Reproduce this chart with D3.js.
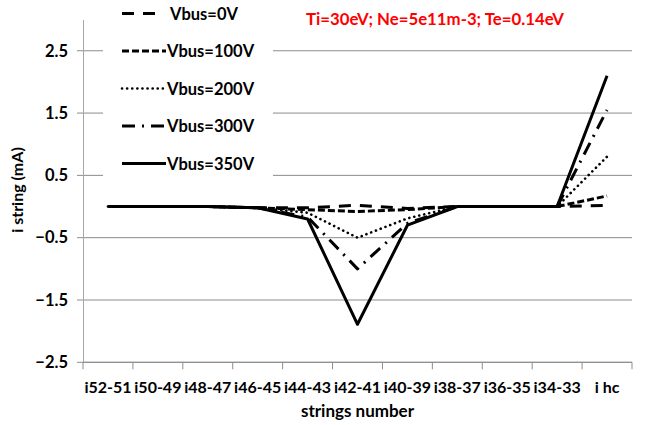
<!DOCTYPE html>
<html>
<head>
<meta charset="utf-8">
<script src="https://cdn.jsdelivr.net/npm/d3@7"></script>
<style>
  body { margin: 0; background: #fff; }
  text { font-family: Lato, "Liberation Sans", sans-serif; font-weight: bold; }
</style>
</head>
<body>
<div id="chart-area"></div>
<script>
// data
let categories = ["i52-51", "i50-49", "i48-47", "i46-45", "i44-43", "i42-41",
                  "i40-39", "i38-37", "i36-35", "i34-33", "i hc"];
let v0   = [0, 0, 0, -0.02, -0.02, 0.02, -0.03, 0, 0, 0, 0.02];
let v100 = [0, 0, 0, -0.02, -0.05, -0.08, -0.05, 0, 0, 0, 0.17];
let v200 = [0, 0, 0, -0.02, -0.1, -0.5, -0.19, 0, 0, 0, 0.8];
let v300 = [0, 0, 0, -0.02, -0.17, -1.0, -0.27, 0, 0, 0, 1.55];
let v350 = [0, 0, 0, -0.02, -0.2, -1.89, -0.3, 0, 0, 0, 2.1];
let yTicks = [-2.5, -1.5, -0.5, 0.5, 1.5, 2.5];

let series = [
  {name: "Vbus=0V",   values: v0,   dash: "12,9",    w: 3},
  {name: "Vbus=100V", values: v100, dash: "7,3",     w: 3},
  {name: "Vbus=200V", values: v200, dash: "0.1,5",   w: 2.6, cap: "round"},
  {name: "Vbus=300V", values: v300, dash: "13,7,2,7", w: 3},
  {name: "Vbus=350V", values: v350, dash: null,      w: 3}
];

let margin = {left: 83, right: 22, top: 19.6, bottom: 62.7};
let width = 654 - margin.left - margin.right;
let height = 425 - margin.top - margin.bottom;

let svg = d3.select("#chart-area")
  .append("svg")
  .attr("width", 654)
  .attr("height", 425);

let g = svg.append("g")
  .attr("transform", "translate(" + margin.left + "," + margin.top + ")");

let x = d3.scaleBand()
  .domain(categories)
  .range([0, width]);

let y = d3.scaleLinear()
  .domain([-2.5, 3])
  .range([height, 0]);

// gridlines
g.selectAll(".grid")
  .data(yTicks)
  .enter()
  .append("line")
  .attr("x1", -6)
  .attr("x2", width)
  .attr("y1", d => y(d))
  .attr("y2", d => y(d))
  .attr("stroke", "#8c8c8c")
  .attr("stroke-width", 1);

// y axis
let yAxisCall = d3.axisLeft(y)
  .tickValues(yTicks)
  .tickSize(0)
  .tickPadding(15)
  .tickFormat(d3.format(".1f"));
let yAxis = g.append("g").call(yAxisCall);
yAxis.select(".domain").attr("stroke", "#a6a6a6");
yAxis.selectAll("text").attr("font-size", "16.5px").attr("fill", "#000");

// x axis
let xAxis = g.append("g")
  .attr("transform", "translate(0," + height + ")");
xAxis.append("line")
  .attr("x1", 0).attr("x2", width)
  .attr("stroke", "#8c8c8c");
xAxis.selectAll(".tk")
  .data(d3.range(categories.length + 1))
  .enter()
  .append("line")
  .attr("x1", i => i * x.bandwidth())
  .attr("x2", i => i * x.bandwidth())
  .attr("y1", 0)
  .attr("y2", 7)
  .attr("stroke", "#8c8c8c");
xAxis.selectAll(".lbl")
  .data(categories)
  .enter()
  .append("text")
  .attr("x", d => x(d) + x.bandwidth() / 2)
  .attr("y", 31)
  .attr("text-anchor", "middle")
  .attr("font-size", "16px")
  .text(d => d);

// lines
let line = d3.line()
  .x((d, i) => x(categories[i]) + x.bandwidth() / 2)
  .y(d => y(d));

series.forEach(s => {
  g.append("path")
    .attr("d", line(s.values))
    .attr("fill", "none")
    .attr("stroke", "#000")
    .attr("stroke-width", s.w)
    .attr("stroke-dasharray", s.dash)
    .attr("stroke-linecap", s.cap || "butt")
    .attr("stroke-linejoin", "round");
});

// legend
let legend = svg.append("g");
legend.append("rect")
  .attr("x", 103).attr("y", 0)
  .attr("width", 170).attr("height", 186)
  .attr("fill", "#fff");
series.forEach((s, i) => {
  let ly = 13.5 + i * 37.5;
  legend.append("line")
    .attr("x1", 122).attr("x2", i == 0 ? 158 : 166)
    .attr("y1", ly).attr("y2", ly)
    .attr("stroke", "#000")
    .attr("stroke-width", s.w)
    .attr("stroke-dasharray", s.dash)
    .attr("stroke-linecap", s.cap || "butt");
  legend.append("text")
    .attr("x", i == 0 ? 170 : 167)
    .attr("y", ly + 6)
    .attr("font-size", "16.5px")
    .text(s.name);
});

// title
svg.append("text")
  .attr("x", 435)
  .attr("y", 25)
  .attr("text-anchor", "middle")
  .attr("font-size", "16.8px")
  .attr("fill", "#ff0000")
  .text("Ti=30eV; Ne=5e11m-3; Te=0.14eV");

// X Label
svg.append("text")
  .attr("x", margin.left + width / 2)
  .attr("y", 417)
  .attr("text-anchor", "middle")
  .attr("font-size", "17px")
  .text("strings number");

// Y Label
svg.append("text")
  .attr("transform", "translate(23," + 190 + ") rotate(-90)")
  .attr("text-anchor", "middle")
  .attr("font-size", "16px")
  .text("i string (mA)");
</script>
</body>
</html>
